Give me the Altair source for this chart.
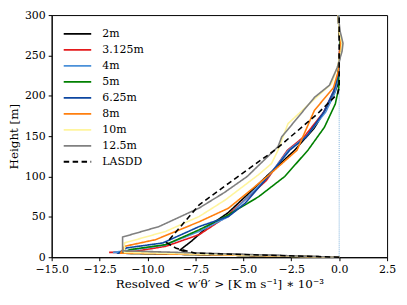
import altair as alt
import pandas as pd

series_names = ["2m", "3.125m", "4m", "5m", "6.25m", "8m", "10m", "12.5m", "LASDD"]
series_colors = ["#000000", "#e41a1c", "#4a90d9", "#008000", "#0d47a1", "#ff7f0e", "#fff59d", "#808080", "#000000"]

h_2m = [0, 5, 9, 20, 37, 55, 75, 100, 132.6, 160, 195, 215, 240, 260, 280, 300]
x_2m = [0, -7.9, -8.3, -7.7, -6.9, -5.8, -4.9, -3.8, -2.32, -1.3, -0.4, -0.05, 0.0, 0.05, 0.0, -0.05]

h_3125 = [0, 6, 7.5, 13.5, 28, 50, 95, 132.6, 150, 180, 210, 230, 250, 265, 280, 300]
x_3125 = [0, -12.0, -10.6, -9.05, -7.3, -5.9, -3.8, -2.7, -1.8, -0.8, -0.2, -0.05, 0.0, 0.05, 0.0, -0.05]

h_4 = [0, 6, 8.5, 15, 32, 50, 100, 132.6, 150, 180, 205, 225, 250, 265, 280, 300]
x_4 = [0, -11.8, -11.0, -9.1, -7.3, -5.8, -3.7, -2.65, -1.7, -0.7, -0.2, -0.05, 0.02, 0.08, 0.0, -0.05]

h_5 = [0, 5, 9.5, 15.6, 34, 52.6, 75, 100, 132.6, 161, 190, 210, 230, 250, 265, 280, 300]
x_5 = [0, -11.3, -10.9, -9.05, -7.3, -5.77, -4.2, -2.84, -1.63, -0.77, -0.2, -0.02, -0.05, 0.02, 0.05, 0.0, -0.05]

h_625 = [0, 5, 11.5, 17.7, 38, 50.5, 67, 100, 132.6, 149, 180, 205, 225, 250, 265, 280, 300]
x_625 = [0, -11.5, -11.1, -9.2, -7.3, -5.77, -4.9, -3.7, -2.58, -1.72, -0.8, -0.3, -0.05, 0.02, 0.08, 0.0, -0.05]

h_8 = [0, 5, 13.5, 21.8, 44, 60.8, 100, 132.6, 182, 210, 230, 250, 265, 280, 300]
x_8 = [0, -11.4, -11.2, -9.57, -7.3, -5.77, -3.75, -2.2, -1.29, -0.3, -0.05, 0.02, 0.08, 0.0, -0.05]

h_10 = [0, 6, 17.7, 32, 50.5, 71, 102, 116, 132.6, 165.5, 200, 215, 235, 255, 265, 280, 300]
x_10 = [0, -11.2, -11.2, -9.05, -7.3, -5.94, -4.22, -3.53, -3.19, -2.67, -1.1, -0.4, -0.1, 0.1, 0.15, 0.0, -0.05]

h_125 = [0, 8, 25, 38, 61, 80, 100, 137, 149, 198, 213, 235, 255, 265, 280, 300]
x_125 = [0, -11.3, -11.3, -9.4, -7.3, -6.0, -4.8, -3.19, -3.0, -1.29, -0.51, -0.1, 0.15, 0.2, 0.05, -0.05]

h_lasdd = [0, 5, 11, 18, 40, 65, 91.6, 118, 132.6, 157, 178, 202.5, 210, 300]
x_lasdd = [0, -7.5, -8.5, -9.0, -8.2, -7.3, -5.77, -4.22, -3.36, -2.15, -1.12, -0.08, 0, 0]

all_h = [h_2m, h_3125, h_4, h_5, h_625, h_8, h_10, h_125, h_lasdd]
all_x = [x_2m, x_3125, x_4, x_5, x_625, x_8, x_10, x_125, x_lasdd]

rows = []
for name, hs, xs in zip(series_names, all_h, all_x):
    for i, (hv, xv) in enumerate(zip(hs, xs)):
        rows.append({"series": name, "idx": i, "h": hv, "flux": xv})
df = pd.DataFrame(rows)

dashes = [[1, 0]] * 8 + [[5.5, 3.5]]
SERIF = "DejaVu Serif"

x_enc = alt.X("flux:Q", scale=alt.Scale(domain=[-15, 2.5], nice=False, zero=False),
              axis=alt.Axis(values=[-15, -12.5, -10, -7.5, -5, -2.5, 0, 2.5], format=".1f",
                            labelOverlap=False, labelFlush=False,
                            title="Resolved < w′θ′ >  [K m s⁻¹] ∗ 10⁻³"))
y_enc = alt.Y("h:Q", scale=alt.Scale(domain=[0, 300], nice=False),
              axis=alt.Axis(values=[0, 50, 100, 150, 200, 250, 300], labelOverlap=False,
                            labelFlush=False, title="Height [m]"))

zero_line = alt.Chart(pd.DataFrame({"flux": [0]})).mark_rule(
    color="#7fb2dd", strokeDash=[1, 1], strokeWidth=1
).encode(x=alt.X("flux:Q"))

leg = dict(title=None, orient="none", legendX=16, legendY=9,
           symbolType="M-1.6,0L1.6,0", symbolSize=300,
           symbolStrokeWidth=1.8, labelOffset=15,
           labelFont=SERIF, labelFontSize=11,
           labelColor="black", rowPadding=1.1, padding=0)

lines = alt.Chart(df).mark_line(strokeWidth=1.6).encode(
    x=x_enc,
    y=y_enc,
    order=alt.Order("idx:Q"),
    color=alt.Color("series:N", sort=series_names,
                    scale=alt.Scale(domain=series_names, range=series_colors),
                    legend=alt.Legend(**leg)),
    strokeDash=alt.StrokeDash("series:N", sort=series_names,
                              scale=alt.Scale(domain=series_names, range=dashes),
                              legend=alt.Legend(**leg)),
)

chart = alt.layer(zero_line, lines).properties(
    width=338, height=244,
    autosize=alt.AutoSizeParams(type="none"),
    padding={"left": 44, "top": 6, "right": 12, "bottom": 45},
).configure(
    font=SERIF
).configure_view(
    stroke="black", strokeWidth=1
).configure_axis(
    grid=False, domainColor="black", tickColor="black", tickSize=3.5,
    labelFont=SERIF, labelFontSize=11, labelColor="black",
    titleFont=SERIF, titleFontSize=12, titleColor="black",
    titleFontWeight="normal", labelPadding=3
)

chart.save("out.html", embed_options={"renderer": "svg", "actions": False})
